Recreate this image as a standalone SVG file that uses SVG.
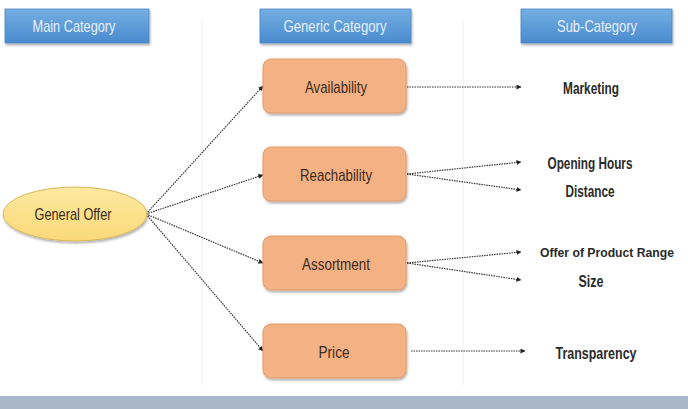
<svg xmlns="http://www.w3.org/2000/svg" width="688" height="409" viewBox="0 0 688 409">
<defs>
<linearGradient id="hdr" x1="0" y1="0" x2="0" y2="1">
<stop offset="0" stop-color="#74aee2"/>
<stop offset="1" stop-color="#4a8bcf"/>
</linearGradient>
<linearGradient id="ell" x1="0" y1="0" x2="0" y2="1">
<stop offset="0" stop-color="#fde9a0"/>
<stop offset="1" stop-color="#fbd97a"/>
</linearGradient>
<marker id="ah" viewBox="0 0 6 6" refX="5.5" refY="3" markerWidth="5" markerHeight="5" orient="auto" markerUnits="userSpaceOnUse">
<path d="M0,0 L6,3 L0,6 z" fill="#222"/>
</marker>
<filter id="sh" x="-10%" y="-10%" width="125%" height="135%">
<feDropShadow dx="1" dy="2" stdDeviation="1.2" flood-color="#000" flood-opacity="0.3"/>
</filter>
</defs>
<style>
.hdr{fill:url(#hdr);stroke:#4a86c0;stroke-width:0.8;filter:url(#sh)}
text{font-family:"Liberation Sans","DejaVu Sans",sans-serif;font-size:17px;text-anchor:middle}
.htxt{fill:#e6f0fa}
.box{fill:#f4b183;stroke:#e39a68;stroke-width:1;filter:url(#sh)}
.ntxt{fill:#3b2a1c}
.stxt{font-weight:bold;fill:#2a2a2a}
.con{stroke:#333;stroke-width:1.2;stroke-dasharray:1.5 1;fill:none;marker-end:url(#ah)}
.sep{stroke:#eeeeee;stroke-width:1}
</style>
<rect width="688" height="409" fill="#ffffff"/>
<line class="sep" x1="202" y1="20" x2="202" y2="385"/>
<line class="sep" x1="463" y1="20" x2="463" y2="385"/>
<g id="hdr-main"><rect class="hdr" x="5" y="9" width="144" height="34"/><text class="htxt" x="74" y="32" textLength="83" lengthAdjust="spacingAndGlyphs">Main Category</text></g>
<g id="hdr-generic"><rect class="hdr" x="260" y="9" width="151" height="34"/><text class="htxt" x="335" y="32" textLength="103" lengthAdjust="spacingAndGlyphs">Generic Category</text></g>
<g id="hdr-sub"><rect class="hdr" x="521" y="9" width="151" height="34"/><text class="htxt" x="597" y="32" textLength="80" lengthAdjust="spacingAndGlyphs">Sub-Category</text></g>
<g id="connectors">
<line class="con" x1="146" y1="214" x2="263" y2="86"/>
<line class="con" x1="146" y1="214" x2="263" y2="175"/>
<line class="con" x1="146" y1="214" x2="263" y2="263"/>
<line class="con" x1="146" y1="214" x2="263" y2="351"/>
<line class="con" x1="407" y1="87" x2="521" y2="87"/>
<line class="con" x1="407" y1="174" x2="521" y2="162"/>
<line class="con" x1="407" y1="174" x2="521" y2="190"/>
<line class="con" x1="407" y1="263" x2="521" y2="252"/>
<line class="con" x1="407" y1="263" x2="521" y2="280"/>
<line class="con" x1="411" y1="351" x2="525" y2="351"/>
</g>
<g id="general-offer"><ellipse cx="75" cy="214" rx="72" ry="27" fill="url(#ell)" stroke="#d9b65c" stroke-width="1" filter="url(#sh)"/><text class="ntxt" x="73" y="220" textLength="77" lengthAdjust="spacingAndGlyphs">General Offer</text></g>
<g id="availability"><rect class="box" x="263" y="59" width="143" height="54" rx="8"/><text class="ntxt" x="336" y="93" textLength="62" lengthAdjust="spacingAndGlyphs">Availability</text></g>
<g id="reachability"><rect class="box" x="263" y="147" width="143" height="54" rx="8"/><text class="ntxt" x="336" y="181" textLength="72" lengthAdjust="spacingAndGlyphs">Reachability</text></g>
<g id="assortment"><rect class="box" x="263" y="236" width="143" height="54" rx="8"/><text class="ntxt" x="336" y="270" textLength="68" lengthAdjust="spacingAndGlyphs">Assortment</text></g>
<g id="price"><rect class="box" x="263" y="324" width="143" height="54" rx="8"/><text class="ntxt" x="334" y="358" textLength="31" lengthAdjust="spacingAndGlyphs">Price</text></g>
<g id="marketing"><text class="stxt" x="591" y="94" textLength="56" lengthAdjust="spacingAndGlyphs">Marketing</text></g>
<g id="opening-hours"><text class="stxt" x="590" y="169" textLength="85" lengthAdjust="spacingAndGlyphs">Opening Hours</text></g>
<g id="distance"><text class="stxt" x="590" y="197" textLength="49" lengthAdjust="spacingAndGlyphs">Distance</text></g>
<g id="offer-range"><text class="stxt" x="607" y="257" style="font-size:12.5px" textLength="134" lengthAdjust="spacingAndGlyphs">Offer of Product Range</text></g>
<g id="size"><text class="stxt" x="591" y="287" textLength="25" lengthAdjust="spacingAndGlyphs">Size</text></g>
<g id="transparency"><text class="stxt" x="596" y="359" textLength="81" lengthAdjust="spacingAndGlyphs">Transparency</text></g>
<rect x="0" y="396" width="688" height="13" fill="#aab6c9"/>
</svg>
